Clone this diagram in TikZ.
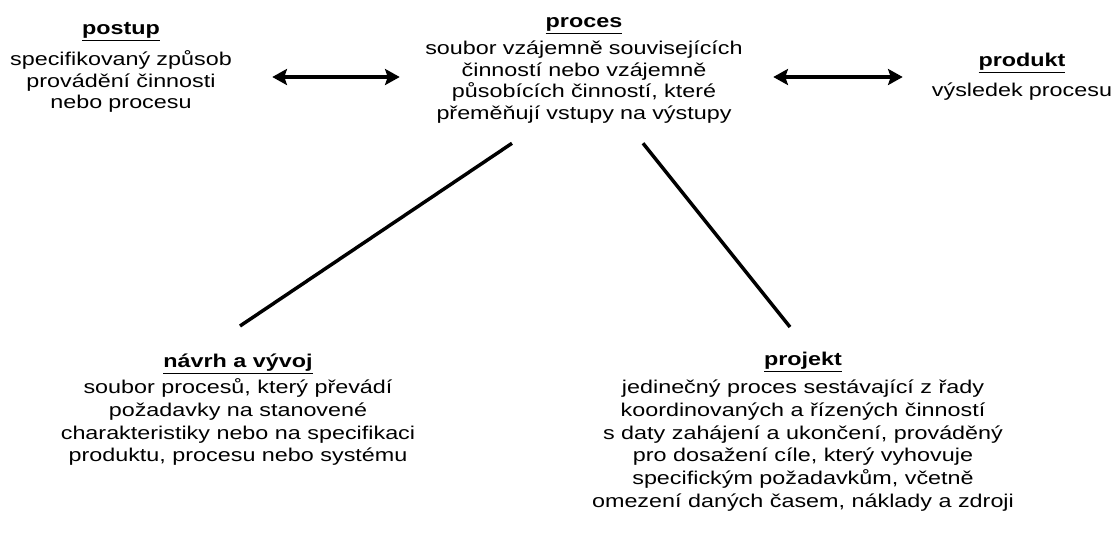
\documentclass[tikz,border=0pt]{standalone}
\usepackage{fontspec}
\setmainfont{Liberation Sans}[FakeStretch=1.26]
\usetikzlibrary{arrows.meta,calc}
\newcommand{\ttl}[2]{\underline{\textbf{#1}}\strut\\[#2]}
\newcommand{\tightlines}{\lineskiplimit=-100pt\relax\lineskip=0pt\relax}
\begin{document}
\begin{tikzpicture}[x=0.75pt,y=-0.75pt,
  concept/.style={anchor=north,align=center,inner sep=0pt},
  toprow/.style={concept,font=\fontsize{13.9}{16.1}\selectfont\tightlines},
  botrow/.style={concept,font=\fontsize{13.9}{17}\selectfont\tightlines},
  dbl/.style={line width=2.8pt,{Stealth[length=11pt,width=12pt,inset=2pt]}-{Stealth[length=11pt,width=12pt,inset=2pt]}},
  link/.style={line width=2.6pt}]
\useasboundingbox (0,0) rectangle (1118,533);
\node[toprow,text width=226.5pt] (postup) at (121,19)
  {\ttl{postup}{7.5pt}specifikovaný způsob\\provádění činnosti\\nebo procesu};
\node[toprow,text width=276pt] (proces) at (584,12)
  {\ttl{proces}{4.5pt}soubor vzájemně souvisejících\\činností nebo vzájemně\\působících činností, které\\přeměňují vstupy na výstupy};
\node[toprow,text width=178.5pt] (produkt) at (1022,51)
  {\ttl{produkt}{6.75pt}výsledek procesu};
\node[botrow] (navrh) at (238,351)
  {\ttl{návrh a vývoj}{3pt}soubor procesů, který převádí\\požadavky na stanovené\\charakteristiky nebo na specifikaci\\produktu, procesu nebo systému};
\node[botrow] (projekt) at (803,349)
  {\ttl{projekt}{4.5pt}jedinečný proces sestávající z řady\\koordinovaných a řízených činností\\s daty zahájení a ukončení, prováděný\\pro dosažení cíle, který vyhovuje\\specifickým požadavkům, včetně\\omezení daných časem, náklady a zdroji};
\coordinate (arow) at (0,77);
\draw[dbl] (postup.east |- arow) -- (proces.west |- arow);
\draw[dbl,shorten <=3.75pt] (proces.east |- arow) -- (produkt.west |- arow);
\draw[link] ($(proces.south)+(-72,20)$) -- ($(navrh.north)+(2,-25)$);
\draw[link] ($(proces.south)+(59,20)$) -- ($(projekt.north)+(-13,-22)$);
\end{tikzpicture}
\end{document}
